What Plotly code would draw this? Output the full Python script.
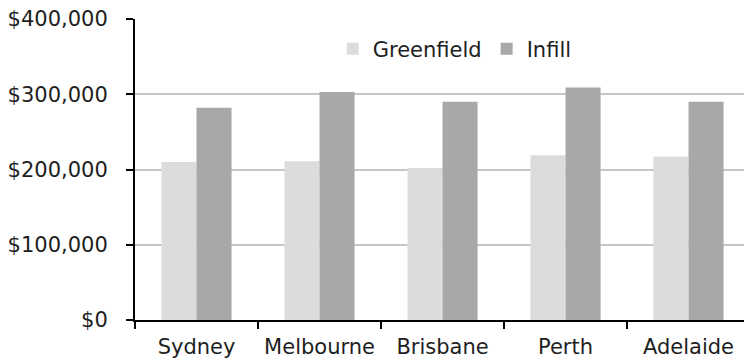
import plotly.graph_objects as go

# Median house price by city and development type
cities = ["Sydney", "Melbourne", "Brisbane", "Perth", "Adelaide"]
greenfield = [210000, 211000, 202000, 219000, 217000]
infill = [282000, 303000, 290000, 309000, 290000]
y_ticks = [0, 100000, 200000, 300000, 400000]
y_tick_labels = ["$0", "$100,000", "$200,000", "$300,000", "$400,000"]

font_family = "DejaVu Sans"
text_color = "#1e1e1e"
font_size = 21

fig = go.Figure()
fig.add_trace(go.Bar(name="Greenfield", x=cities, y=greenfield,
                     marker=dict(color="#dcdcdc", line=dict(width=0))))
fig.add_trace(go.Bar(name="Infill", x=cities, y=infill,
                     marker=dict(color="#a8a8a8", line=dict(width=0))))

fig.update_layout(
    width=744, height=362,
    margin=dict(l=135, r=0, t=19, b=42),
    paper_bgcolor="white", plot_bgcolor="white",
    barmode="group", bargap=0.43, bargroupgap=0,
    font=dict(family=font_family, size=font_size, color=text_color),
    showlegend=True,
    legend=dict(orientation="h", x=0.525, xanchor="center", y=0.9, yanchor="middle",
                bgcolor="rgba(0,0,0,0)", font=dict(size=font_size, color=text_color),
                traceorder="normal"),
)

fig.update_xaxes(
    range=[-0.5, 4.451],
    showline=True, linecolor="black", linewidth=2,
    ticks="outside", tickson="boundaries", ticklen=7, tickwidth=1.5, tickcolor="black",
    ticklabelstandoff=7,
    showgrid=False, zeroline=False,
    tickfont=dict(size=font_size, color=text_color),
)
fig.update_yaxes(
    range=[0, 400000],
    tickvals=y_ticks, ticktext=y_tick_labels,
    showline=True, linecolor="black", linewidth=2,
    ticks="outside", ticklen=7, tickwidth=1.5, tickcolor="black",
    ticklabelstandoff=14,
    showgrid=True, gridcolor="#c6c6c6", gridwidth=1.5,
    zeroline=False,
    tickfont=dict(size=font_size, color=text_color),
)

fig.write_html("out.html")
